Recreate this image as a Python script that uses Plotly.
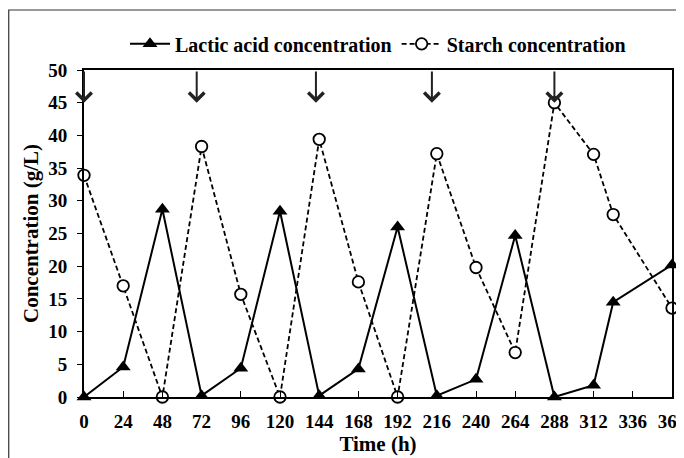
import plotly.graph_objects as go

# ---- data ----
lactic_time = [0, 24, 48, 72, 96, 120, 144, 168, 192, 216, 240, 264, 288, 312, 324, 360]
lactic_conc = [0, 4.6, 28.7, 0.2, 4.4, 28.4, 0.2, 4.3, 26.0, 0.2, 2.7, 24.7, 0.0, 1.8, 14.5, 20.2]

starch_time = [0, 24, 48, 72, 96, 120, 144, 168, 192, 216, 240, 264, 288, 312, 324, 360]
starch_conc = [33.9, 17.0, 0.0, 38.3, 15.7, 0.0, 39.4, 17.6, 0.0, 37.2, 19.8, 6.8, 45.0, 37.1, 27.9, 13.6]

feed_times = [0, 69, 142, 213, 288]      # substrate feeding arrows
arrow_top, arrow_tip = 50.0, 45.0

x_ticks = list(range(0, 361, 24))
y_ticks = list(range(0, 51, 5))

FONT = "Liberation Serif"

fig = go.Figure()
fig.add_trace(go.Scatter(
    x=lactic_time, y=lactic_conc, mode="lines+markers",
    name="Lactic acid concentration",
    line=dict(color="black", width=2),
    marker=dict(symbol="triangle-up", size=13, color="black"),
    cliponaxis=False,
))
fig.add_trace(go.Scatter(
    x=starch_time, y=starch_conc, mode="lines+markers",
    name="Starch concentration",
    line=dict(color="black", width=1.8, dash="5px,3px"),
    marker=dict(symbol="circle", size=11.5, color="white",
                line=dict(color="black", width=1.8)),
    cliponaxis=False,
))

annotations = []
for t in feed_times:
    annotations.append(dict(
        x=t, y=arrow_tip, xref="x", yref="y",
        ax=t, ay=arrow_top, axref="x", ayref="y",
        text="", showarrow=True, arrowhead=4, arrowsize=1.5,
        arrowwidth=2, arrowcolor="#222",
    ))

shapes = [dict(type="rect", xref="paper", yref="paper",
               x0=-0.128, x1=1.1, y0=-0.3, y1=1.1835,
               line=dict(color="#333", width=1.2), layer="below")]

# page body has an 8px offset, so the figure is 8px smaller than the window
fig.update_layout(
    width=676, height=450,
    margin=dict(l=76, r=12, t=62, b=61, autoexpand=False),
    paper_bgcolor="white", plot_bgcolor="white",
    font=dict(family=FONT, size=16, color="black", weight="bold"),
    showlegend=True,
    legend=dict(orientation="h", x=0.5, xanchor="center", y=1.08, yanchor="middle",
                font=dict(family=FONT, size=20, weight="bold"), bgcolor="rgba(0,0,0,0)",
                itemwidth=40),
    shapes=shapes,
    annotations=annotations,
    xaxis=dict(range=[0, 360], tickvals=x_ticks, ticktext=[str(v) for v in x_ticks],
               ticks="inside", ticklen=6, tickwidth=1, tickcolor="black",
               ticklabelstandoff=6, ticklabeloverflow="allow",
               showline=True, linecolor="black", linewidth=2, mirror=True,
               showgrid=False, zeroline=False, automargin=False,
               title=dict(text="Time (h)", standoff=2, font=dict(size=21, weight="bold")),
               tickfont=dict(size=19, weight="bold")),
    yaxis=dict(range=[0, 50], tickvals=y_ticks,
               ticks="outside", ticklen=5, tickwidth=1, tickcolor="black",
               ticklabelstandoff=6,
               showline=True, linecolor="black", linewidth=2, mirror=True,
               showgrid=False, zeroline=False, automargin=False,
               title=dict(text="Concentration (g/L)", standoff=4, font=dict(size=21, weight="bold")),
               tickfont=dict(size=19, weight="bold")),
)

fig.write_html("out.html")
